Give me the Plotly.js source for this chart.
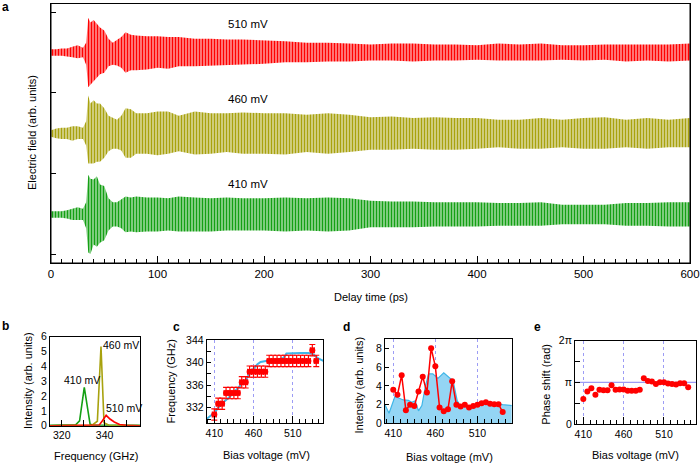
<!DOCTYPE html>
<html>
<head>
<meta charset="utf-8">
<script src="https://cdn.plot.ly/plotly-3.0.1.min.js"></script>
<style>
  html, body { margin: 0; padding: 0; background: #fff; }
  #chart { width: 700px; height: 465px; }
</style>
</head>
<body>
<div id="chart"></div>
<script>
// ---- panel a: waveform envelopes (upper / lower excursion from each trace's baseline, arb. units)
const delayPs = [0, 5, 10, 15, 20, 25, 30, 33, 35, 37, 40, 43, 46, 50, 54, 58, 62, 66, 70, 75,
    80, 90, 100, 110, 120, 135, 150, 165, 180, 200, 220, 240, 260, 280, 300, 320, 340, 360, 380, 400,
    420, 440, 460, 480, 500, 520, 540, 560, 580, 600];

const red510Hi = [0.04, 0.04, 0.05, 0.05, 0.07, 0.09, 0.06, 0.12, 0.43, 0.37, 0.40, 0.35, 0.31, 0.27, 0.17, 0.12, 0.15, 0.19, 0.25, 0.22,
    0.21, 0.20, 0.20, 0.19, 0.19, 0.17, 0.17, 0.16, 0.16, 0.15, 0.14, 0.12, 0.12, 0.11, 0.10, 0.11, 0.11, 0.10, 0.10, 0.09,
    0.11, 0.10, 0.11, 0.09, 0.09, 0.10, 0.10, 0.10, 0.10, 0.11];
const red510Lo = [0.04, 0.04, 0.04, 0.05, 0.06, 0.07, 0.06, 0.15, 0.43, 0.40, 0.35, 0.31, 0.27, 0.25, 0.17, 0.15, 0.16, 0.19, 0.25, 0.22,
    0.22, 0.21, 0.19, 0.20, 0.17, 0.17, 0.16, 0.15, 0.15, 0.14, 0.12, 0.12, 0.11, 0.11, 0.10, 0.10, 0.11, 0.10, 0.10, 0.09,
    0.10, 0.10, 0.10, 0.09, 0.10, 0.09, 0.11, 0.10, 0.11, 0.10];

const olive460Hi = [0.04, 0.06, 0.07, 0.07, 0.09, 0.09, 0.07, 0.15, 0.47, 0.37, 0.41, 0.37, 0.37, 0.31, 0.22, 0.19, 0.17, 0.22, 0.31, 0.30,
    0.25, 0.25, 0.27, 0.27, 0.22, 0.27, 0.25, 0.25, 0.26, 0.25, 0.25, 0.23, 0.25, 0.23, 0.20, 0.21, 0.19, 0.20, 0.19, 0.19,
    0.17, 0.17, 0.19, 0.17, 0.19, 0.20, 0.17, 0.19, 0.17, 0.19];
const olive460Lo = [0.04, 0.06, 0.07, 0.07, 0.09, 0.07, 0.07, 0.15, 0.37, 0.37, 0.37, 0.35, 0.35, 0.30, 0.22, 0.19, 0.19, 0.21, 0.30, 0.30,
    0.25, 0.25, 0.27, 0.25, 0.22, 0.26, 0.25, 0.23, 0.25, 0.25, 0.26, 0.23, 0.25, 0.23, 0.20, 0.20, 0.19, 0.20, 0.20, 0.19,
    0.17, 0.19, 0.19, 0.17, 0.19, 0.19, 0.17, 0.19, 0.17, 0.17];

const green410Hi = [0.04, 0.04, 0.04, 0.05, 0.07, 0.09, 0.07, 0.15, 0.49, 0.44, 0.43, 0.47, 0.37, 0.35, 0.20, 0.15, 0.15, 0.19, 0.22, 0.21,
    0.22, 0.21, 0.21, 0.20, 0.22, 0.21, 0.20, 0.21, 0.20, 0.20, 0.21, 0.20, 0.21, 0.20, 0.17, 0.16, 0.16, 0.15, 0.15, 0.15,
    0.14, 0.14, 0.15, 0.12, 0.12, 0.12, 0.14, 0.14, 0.15, 0.15];
const green410Lo = [0.04, 0.04, 0.04, 0.05, 0.07, 0.07, 0.07, 0.17, 0.47, 0.49, 0.37, 0.40, 0.35, 0.32, 0.20, 0.15, 0.15, 0.17, 0.22, 0.21,
    0.22, 0.21, 0.21, 0.20, 0.21, 0.21, 0.21, 0.20, 0.20, 0.20, 0.21, 0.20, 0.21, 0.20, 0.16, 0.16, 0.16, 0.15, 0.15, 0.15,
    0.14, 0.14, 0.14, 0.12, 0.12, 0.12, 0.14, 0.14, 0.15, 0.15];

// ---- panel b: spectra
const greenF = [314.5, 324, 326.5, 328.3, 330.5, 333.2, 335, 356.5];
const greenI = [0.02, 0.03, 0.06, 0.33, 2.59, 0.1, 0.03, 0.02];
const oliveF = [314.5, 334, 336.6, 338.3, 339.7, 342, 356.5];
const oliveI = [0, 0.02, 0.3, 5.33, 0.2, 0.03, 0];
const redF = [314.5, 336, 337.5, 338.8, 340.7, 342.5, 344.5, 347, 350, 356.5];
const redI = [0, 0.01, 0.05, 0.3, 0.7, 0.45, 0.25, 0.08, 0.02, 0];

// ---- panels c, d, e: bias sweep
const biasMv = [410, 415, 420, 425, 430, 435, 440, 445, 450, 455, 460, 465, 470, 475,
    480, 485, 490, 495, 500, 505, 510, 515, 520, 525, 530, 535, 540];
const freqGHz = [330.8, 332.7, 332.7, 334.6, 334.6, 334.6, 334.6, 336.5, 336.5, 338.4, 338.4, 338.4, 338.4, 338.4,
    340.3, 340.3, 340.3, 340.3, 340.3, 340.3, 340.3, 340.3, 340.3, 340.3, 340.3, 342.2, 340.3];
const fitMv = [400, 405, 410, 415, 421, 430, 438, 445, 451, 456, 460, 465, 469, 475, 481, 490, 498, 502, 510, 520, 530, 536, 542, 549];
const fitGHz = [330.0, 330.5, 331.1, 332.0, 332.9, 334.0, 335.2, 336.2, 337.1, 338.3, 339.0, 339.7, 340.1, 340.3, 340.4, 340.5, 340.8, 341.6, 341.7, 341.7, 341.7, 341.5, 340.8, 340.3];

const intensity = [3.6, 3.05, 5.15, 1.4, 2.0, 1.85, 3.4, 5.0, 3.3, 8.05, 6.1, 1.7, 1.3, 1.5,
    4.5, 2.0, 1.8, 2.0, 1.7, 1.85, 2.0, 2.15, 2.25, 2.1, 2.05, 2.05, 1.2];
const calcMv = [400, 405, 412, 422, 428, 432, 436, 440, 444, 448, 452, 457, 463, 470, 477, 481, 486, 489, 495, 501, 509, 515, 521, 527, 533, 540, 551];
const calcInt = [2.0, 1.07, 2.87, 2.5, 2.45, 2.25, 2.4, 1.33, 1.9, 3.9, 5.3, 5.3, 4.8, 5.4, 4.85, 4.6, 2.4, 2.0, 1.9, 1.8, 1.9, 2.0, 2.3, 2.2, 2.1, 2.0, 1.9];

// phase shift in units of pi
const phasePi = [0.6, 0.78, 0.86, 0.7, 0.82, 0.81, 0.81, 0.93, 0.82, 0.83, 0.83, 0.8, 0.8, 0.8,
    0.82, 1.1, 1.03, 1.02, 0.96, 1.0, 1.0, 0.97, 0.96, 0.95, 0.98, 0.98, 0.88];

const FONT = 'Liberation Sans, Arial, Helvetica, sans-serif';
const RED = '#ff0000';
const OLIVE = '#a8a20e';
const GREEN = '#14a014';
const SKY = '#3fb6e8';
const GRID = '#9c9cf5';

// band between upper and lower envelope, hatched with vertical strokes
// so it reads like the dense oscillation of the measured trace
function band(hi, lo, offset, color) {
    const xs = delayPs.concat(delayPs.slice().reverse());
    const top = hi.map(v => offset + v);
    const bottom = lo.map(v => offset - v).reverse();
    return {
        x: xs, y: top.concat(bottom), xaxis: 'x', yaxis: 'y',
        type: 'scatter', mode: 'lines', fill: 'toself',
        fillcolor: 'rgba(255,255,255,0)',
        fillpattern: {shape: '|', fgcolor: color, bgcolor: 'rgba(255,255,255,0)', size: 3, solidity: 0.7},
        line: {color: color, width: 0},
        hoverinfo: 'skip'
    };
}

const data = [
    band(green410Hi, green410Lo, 0, GREEN),
    band(olive460Hi, olive460Lo, 1, OLIVE),
    band(red510Hi, red510Lo, 2, RED),

    {x: greenF, y: greenI, xaxis: 'x2', yaxis: 'y2', mode: 'lines', line: {color: GREEN, width: 1.6}},
    {x: oliveF, y: oliveI, xaxis: 'x2', yaxis: 'y2', mode: 'lines', line: {color: OLIVE, width: 1.6}},
    {x: redF, y: redI, xaxis: 'x2', yaxis: 'y2', mode: 'lines', line: {color: RED, width: 1.6}},

    {x: fitMv, y: fitGHz, xaxis: 'x3', yaxis: 'y3', mode: 'lines', line: {color: SKY, width: 2}},
    {
        x: biasMv, y: freqGHz, xaxis: 'x3', yaxis: 'y3', mode: 'markers',
        marker: {color: RED, size: 6},
        error_y: {type: 'constant', value: 1.0, color: RED, thickness: 1.2, width: 3},
        error_x: {type: 'constant', value: 2.5, color: RED, thickness: 1.2, width: 3}
    },

    {
        x: calcMv, y: calcInt, xaxis: 'x4', yaxis: 'y4', mode: 'lines', fill: 'tozeroy',
        fillcolor: '#94d5f4', line: {color: SKY, width: 1.2}
    },
    {
        x: biasMv, y: intensity, xaxis: 'x4', yaxis: 'y4', mode: 'lines+markers',
        line: {color: RED, width: 1.5}, marker: {color: RED, size: 6}
    },

    {
        x: biasMv, y: phasePi.map(v => v * Math.PI), xaxis: 'x5', yaxis: 'y5', mode: 'markers',
        marker: {color: RED, size: 6}
    }
];

function frame(extra) {
    return Object.assign({
        showline: true, linecolor: 'black', linewidth: 1, mirror: true,
        zeroline: false, showgrid: false, ticks: 'inside', tickcolor: 'black',
        ticklen: 4, tickwidth: 1, tickfont: {size: 10.5}, fixedrange: true,
        ticklabeloverflow: 'allow'
    }, extra);
}

function biasAxis(domain, anchor, range) {
    return frame({
        domain: domain, anchor: anchor, range: range,
        tickmode: 'linear', tick0: 410, dtick: 50, ticklen: 7,
        showgrid: true, gridcolor: GRID, griddash: 'dot', gridwidth: 1,
        minor: {tick0: 410, dtick: 50 / 6, ticks: 'inside', ticklen: 4, tickcolor: 'black', showgrid: false}
    });
}

const W = 700, H = 465;
const px = (a, b) => [a / W, b / W];
const py = (top, bottom) => [1 - bottom / H, 1 - top / H];

function label(text, x, y, opts) {
    return Object.assign({
        text: text, x: x / W, y: 1 - y / H, xref: 'paper', yref: 'paper',
        showarrow: false, xanchor: 'center', yanchor: 'middle',
        font: {size: 11, color: 'black'}
    }, opts || {});
}

const layout = {
    width: W, height: H,
    margin: {l: 0, r: 0, t: 0, b: 0},
    paper_bgcolor: 'white', plot_bgcolor: 'white',
    font: {family: FONT, size: 10.5, color: 'black'},
    showlegend: false,

    xaxis: frame({
        domain: px(51, 690), anchor: 'y', range: [-0.01, 600.01],
        tickmode: 'linear', tick0: 0, dtick: 100, ticklen: 7, tickfont: {size: 11.5},
        minor: {dtick: 10, ticks: 'inside', ticklen: 4, tickcolor: 'black', showgrid: false}
    }),
    yaxis: frame({
        domain: py(3.5, 263), anchor: 'x', range: [-0.6, 2.605],
        tickmode: 'array', tickvals: [-0.5, 0.5, 1.5, 2.5], showticklabels: false, ticklen: 5
    }),

    xaxis2: frame({
        domain: px(50, 140), anchor: 'y2', range: [314.5, 356.5],
        tickmode: 'array', tickvals: [320, 330, 340, 350], ticktext: ['320', '', '340', ''], ticklen: 6
    }),
    yaxis2: frame({
        domain: py(336.7, 425.7), anchor: 'x2', range: [0, 6],
        tickmode: 'linear', tick0: 0, dtick: 1, ticks: ''
    }),

    xaxis3: biasAxis(px(206.7, 323.3), 'y3', [400.3, 549]),
    yaxis3: frame({
        domain: py(340, 423.3), anchor: 'x3', range: [329.25, 344],
        tickmode: 'linear', tick0: 332, dtick: 4,
        minor: {dtick: 2, ticks: 'inside', ticklen: 4, tickcolor: 'black', showgrid: false}
    }),

    xaxis4: biasAxis(px(385, 511.7), 'y4', [400.2, 550.7]),
    yaxis4: frame({
        domain: py(339.3, 423.3), anchor: 'x4', range: [0, 9],
        tickmode: 'linear', tick0: 0, dtick: 2
    }),

    xaxis5: biasAxis(px(575, 696), 'y5', [399.7, 549.7]),
    yaxis5: frame({
        domain: py(340.7, 424), anchor: 'x5', range: [0, 2 * Math.PI],
        tickmode: 'array',
        tickvals: [0, Math.PI / 2, Math.PI, 1.5 * Math.PI, 2 * Math.PI],
        ticktext: ['0', '', 'π', '', '2π'], ticklen: 5
    }),

    shapes: [
        {
            type: 'rect', xref: 'x domain', yref: 'y domain', x0: 0, x1: 1, y0: 0, y1: 1,
            line: {color: 'black', width: 1}, layer: 'above'
        },
        {
            type: 'line', xref: 'x5 domain', yref: 'y5', x0: 0, x1: 1, y0: Math.PI, y1: Math.PI,
            line: {color: GRID, width: 1.2}, layer: 'below'
        }
    ],

    annotations: [
        // panel letters
        label('<b>a</b>', 0, 7, {xanchor: 'left', font: {size: 12}}),
        label('<b>b</b>', 5, 326, {font: {size: 12}}),
        label('<b>c</b>', 176, 327, {font: {size: 12}}),
        label('<b>d</b>', 346, 327, {font: {size: 12}}),
        label('<b>e</b>', 537, 327, {font: {size: 12}}),

        // axis titles
        label('Delay time (ps)', 370.5, 297),
        label('Electric field (arb. units)', 32, 133, {textangle: -90}),
        label('Frequency (GHz)', 96, 456),
        label('Intensity (arb. units)', 28, 381, {textangle: -90}),
        label('Bias voltage (mV)', 266, 455),
        label('Frequency (GHz)', 170, 381.5, {textangle: -90}),
        label('Bias voltage (mV)', 449, 457),
        label('Intensity (arb. units)', 358.5, 385, {textangle: -90}),
        label('Bias voltage (mV)', 635.5, 455),
        label('Phase shift (rad)', 545.7, 384, {textangle: -90}),

        // series labels in panel a
        {text: '510 mV', x: 184.6, y: 2.35, xref: 'x', yref: 'y', showarrow: false, font: {size: 11.5}},
        {text: '460 mV', x: 184.6, y: 1.43, xref: 'x', yref: 'y', showarrow: false, font: {size: 11.5}},
        {text: '410 mV', x: 184.6, y: 0.37, xref: 'x', yref: 'y', showarrow: false, font: {size: 11.5}},

        // series labels in panel b
        {text: '410 mV', x: 329.3, y: 3.08, xref: 'x2', yref: 'y2', showarrow: false, font: {size: 10.5}},
        {text: '460 mV', x: 347.4, y: 5.44, xref: 'x2', yref: 'y2', showarrow: false, font: {size: 10.5}},
        {text: '510 mV', x: 349.1, y: 1.21, xref: 'x2', yref: 'y2', showarrow: false, font: {size: 10.5}}
    ]
};

Plotly.newPlot('chart', data, layout, {staticPlot: true, displayModeBar: false});
</script>
</body>
</html>
